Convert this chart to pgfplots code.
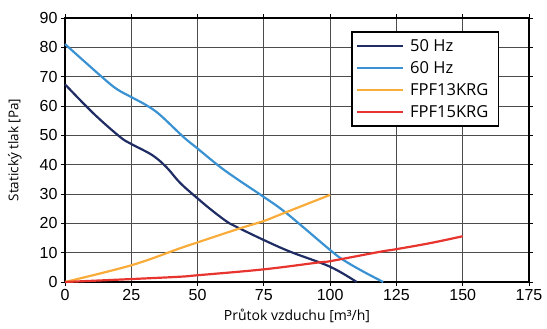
\documentclass[border=0pt]{standalone}
\usepackage{pgfplots}
\pgfplotsset{compat=1.18}
\usepackage{fontspec}
\setmainfont{Liberation Sans}
\newfontfamily\lblfont{Open Sans}
\definecolor{c50}{HTML}{1F2D64}
\definecolor{c60}{HTML}{3A92D2}
\definecolor{c13}{HTML}{F9AC3A}
\definecolor{c15}{HTML}{E8342E}
\begin{document}
\begin{tikzpicture}
\useasboundingbox (0,0) rectangle (547pt,329pt);
\begin{axis}[
  at={(65pt,47pt)}, anchor=south west,
  scale only axis, width=464pt, height=264pt,
  xmin=0, xmax=175, ymin=0, ymax=90,
  xtick={0,25,...,175}, ytick={0,10,...,90},
  grid=major,
  major grid style={draw=black!70, line width=0.9pt},
  axis line style={line width=1.6pt, black},
  tick align=outside, major tick length=4pt,
  tick style={black, line width=0.8pt},
  ticklabel style={font=\fontsize{16}{18}\selectfont},
  /pgf/number format/assume math mode=true,
  xlabel={\lblfont\fontsize{14}{16}\selectfont Průtok vzduchu [m³/h]},
  ylabel={\lblfont\fontsize{13.5}{16}\selectfont Statický tlak [Pa]},
  xlabel style={at={(axis description cs:0.5,0)}, anchor=center, yshift=-34pt},
  ylabel style={at={(axis description cs:-0.108,0.5)}, anchor=center},
  legend style={at={(axis description cs:0.6164,0.9508)}, anchor=north west,
    draw=black, line width=1.6pt, font=\lblfont\fontsize{16.5}{19}\selectfont,
    inner xsep=4pt, inner ysep=5pt, row sep=3.5pt,
    nodes={inner xsep=6pt, inner ysep=2.5pt}},
  legend cell align=left,
  legend image code/.code={\draw[#1, line width=2.4pt] (0pt,0pt) -- (46pt,0pt);},
  every axis plot/.append style={line width=2.2pt, smooth, tension=0.6},
  clip=false,
]
\addplot[c50] coordinates {(0,67.4) (10.7,57.5) (20.7,49.5) (25.1,47) (33,43.2) (38.4,39) (43.4,33.8) (50,28.5) (56,24) (62,20) (66,18.2) (75,14.3) (85,10.3) (100,5.2) (110,0)};
\addlegendentry{50 Hz}
\addplot[c60] coordinates {(0,81.1) (13.8,70) (19.5,65.8) (25.1,63) (30.8,60.2) (35.8,57) (44.6,49.5) (50,45.5) (58.4,39.3) (65.4,34.8) (74.8,29.1) (83.6,23.4) (100,10.9) (105,7.5) (112,3.8) (120,0)};
\addlegendentry{60 Hz}
\addplot[c13] coordinates {(0,0) (25,5.7) (43.4,11.5) (50,13.5) (66,18.3) (75,20.8) (82.3,23.4) (100,29.7)};
\addlegendentry{FPF13KRG}
\addplot[c15] coordinates {(0,0) (25,1) (43.4,1.8) (50,2.3) (74.8,4.3) (96,6.7) (100,7.1) (118.8,10.3) (125,11.2) (138,13.3) (150,15.6)};
\addlegendentry{FPF15KRG}
\end{axis}
\end{tikzpicture}
\end{document}
